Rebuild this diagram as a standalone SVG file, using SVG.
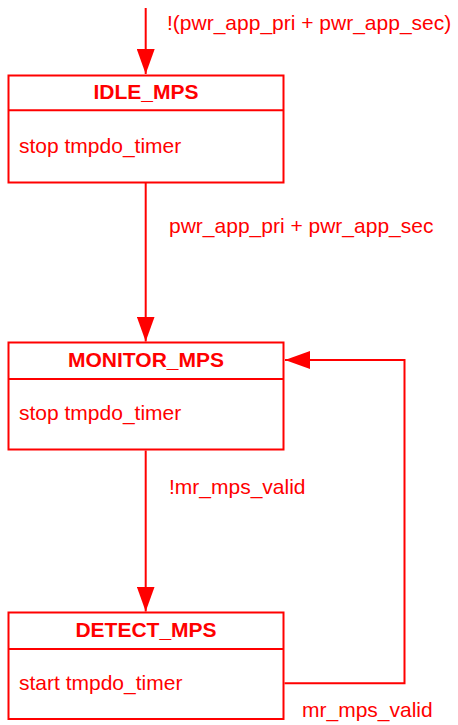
<svg xmlns="http://www.w3.org/2000/svg" width="458" height="725" viewBox="0 0 458 725">
<style>
.box{fill:#fff;stroke:#ff0000;stroke-width:2}
.div{stroke:#ff0000;stroke-width:2}
.title{font-family:"Liberation Sans",Arial,sans-serif;font-size:21px;font-weight:bold;fill:#ff0000;text-anchor:middle}
.body{font-family:"Liberation Sans",Arial,sans-serif;font-size:21px;fill:#ff0000}
.lbl{font-family:"Liberation Sans",Arial,sans-serif;font-size:21px;fill:#ff0000}
.edge{fill:none;stroke:#ff0000;stroke-width:2}
</style>
<defs>
<marker id="arr" viewBox="0 0 25 18" refX="25" refY="9" markerWidth="25" markerHeight="18" markerUnits="userSpaceOnUse" orient="auto">
<path d="M0,0 L25,9 L0,18 z" fill="#ff0000"/>
</marker>
</defs>
<rect width="458" height="725" fill="#fff"/>
<g id="connectors">
<path class="edge" d="M145.7,8 L145.7,74" marker-end="url(#arr)"/>
<path class="edge" d="M145.7,183 L145.7,341.5" marker-end="url(#arr)"/>
<path class="edge" d="M145.7,450.5 L145.7,611.5" marker-end="url(#arr)"/>
<path class="edge" d="M284.5,683.3 L404.5,683.3 L404.5,360 L285,360" marker-end="url(#arr)"/>
<text class="lbl" x="167" y="30">!(pwr_app_pri + pwr_app_sec)</text>
<text class="lbl" x="169" y="232.7">pwr_app_pri + pwr_app_sec</text>
<text class="lbl" x="169" y="494">!mr_mps_valid</text>
<text class="lbl" x="302" y="716.7">mr_mps_valid</text>
</g>
<g id="IDLE_MPS">
<rect class="box" x="8.5" y="75.5" width="275" height="107"/>
<line class="div" x1="8.5" y1="110.3" x2="283.5" y2="110.3"/>
<text class="title" x="146" y="99.3">IDLE_MPS</text>
<text class="body" x="19" y="153.3">stop tmpdo_timer</text>
</g>
<g id="MONITOR_MPS">
<rect class="box" x="8.5" y="342.5" width="275" height="107"/>
<line class="div" x1="8.5" y1="379" x2="283.5" y2="379"/>
<text class="title" x="146" y="366.7">MONITOR_MPS</text>
<text class="body" x="19" y="420">stop tmpdo_timer</text>
</g>
<g id="DETECT_MPS">
<rect class="box" x="8.5" y="612.5" width="275" height="106.5"/>
<line class="div" x1="8.5" y1="649" x2="283.5" y2="649"/>
<text class="title" x="146" y="636.7">DETECT_MPS</text>
<text class="body" x="19" y="690">start tmpdo_timer</text>
</g>
</svg>
